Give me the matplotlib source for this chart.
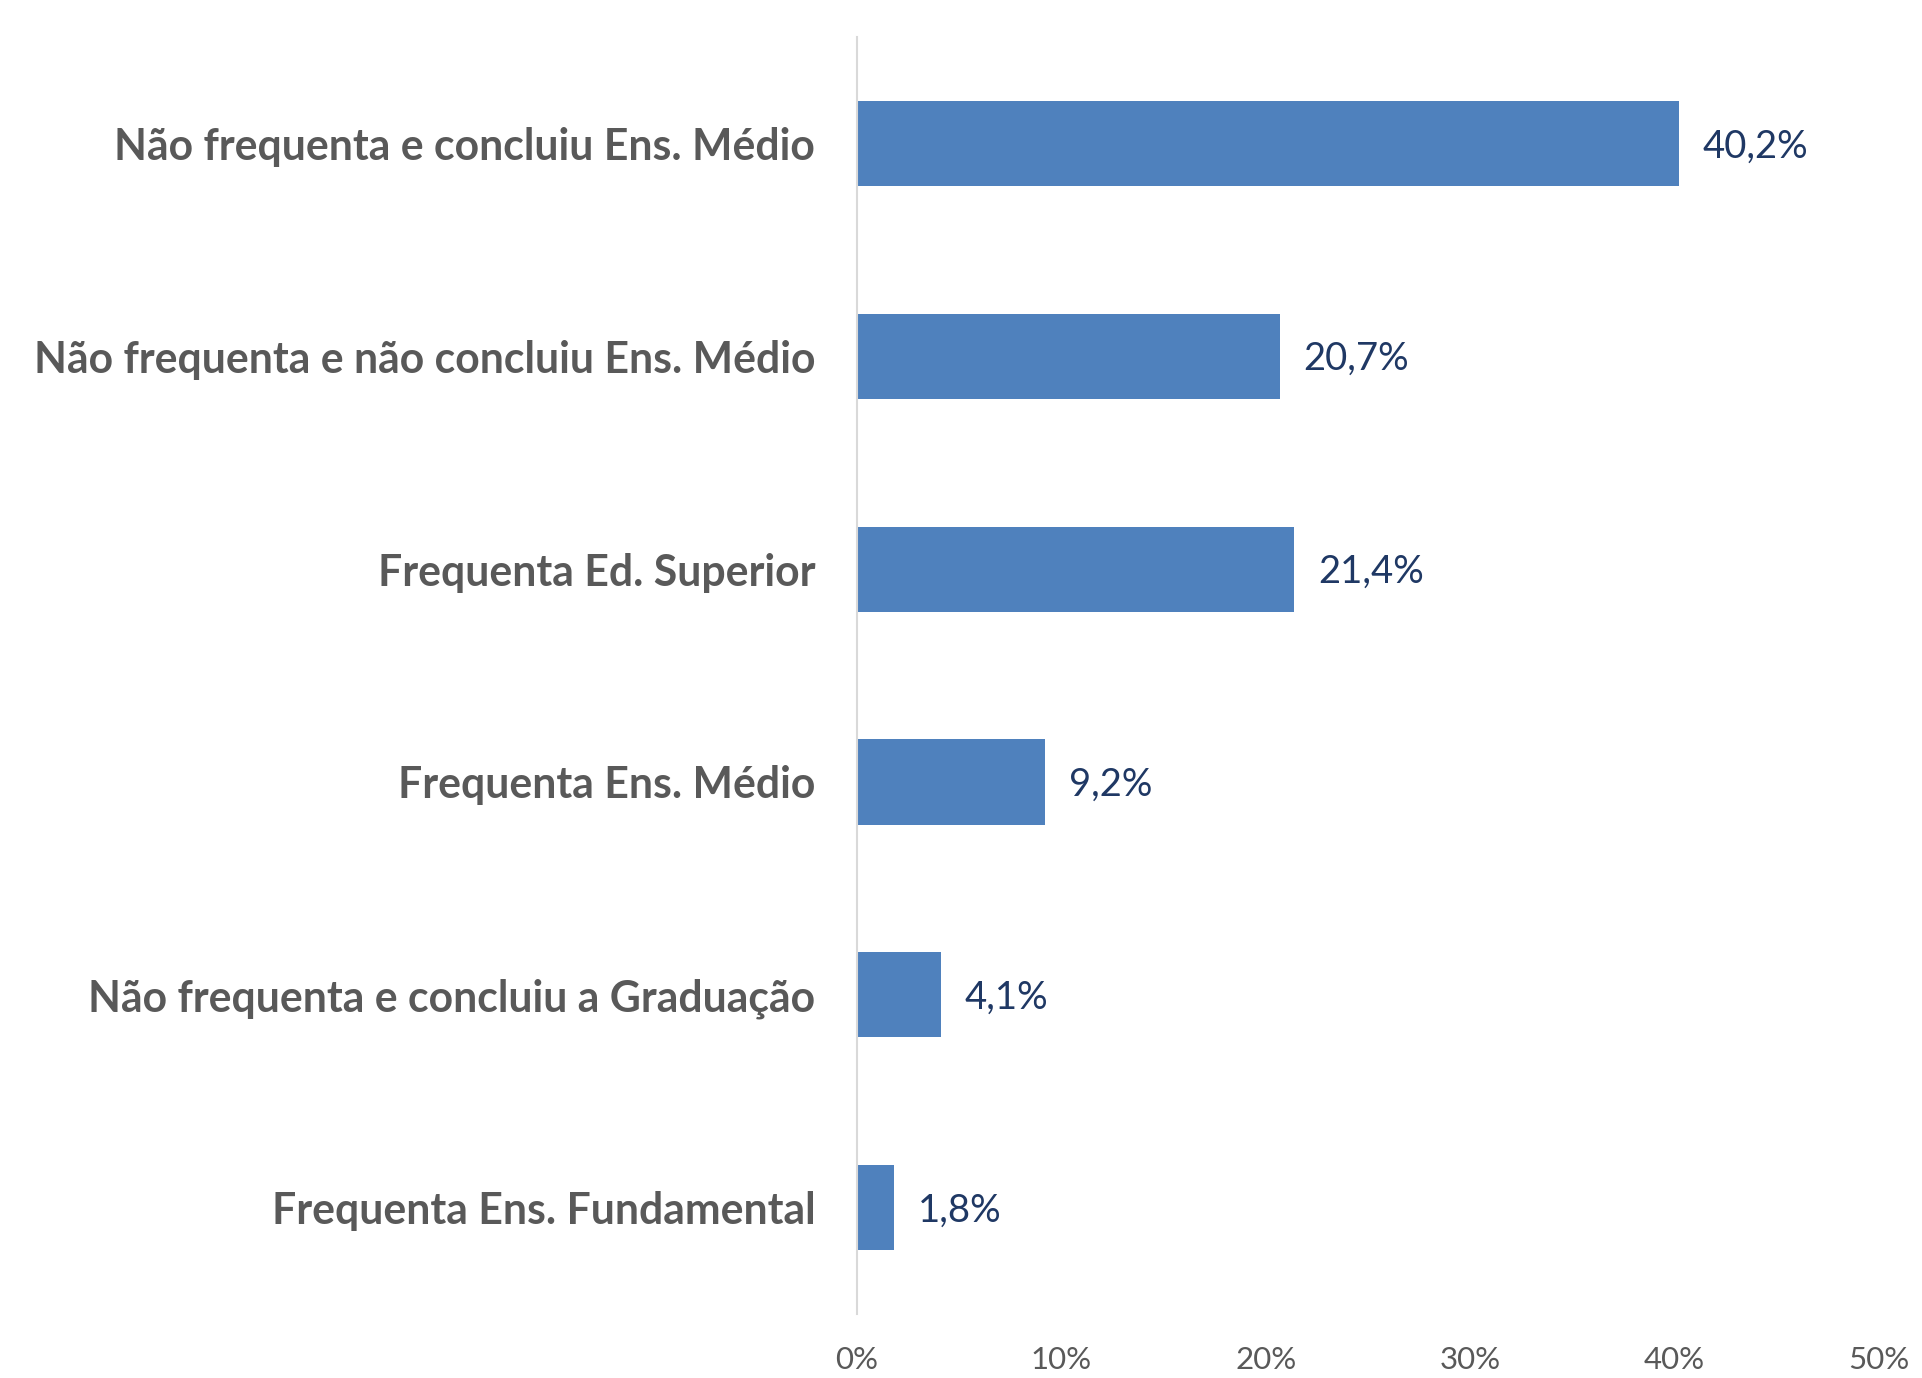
import matplotlib.pyplot as plt
from matplotlib.ticker import FuncFormatter

categorias = ['Não frequenta e concluiu Ens. Médio',
              'Não frequenta e não concluiu Ens. Médio',
              'Frequenta Ed. Superior',
              'Frequenta Ens. Médio',
              'Não frequenta e concluiu a Graduação',
              'Frequenta Ens. Fundamental']
valores = [40.2, 20.7, 21.4, 9.2, 4.1, 1.8]
rotulos = ['40,2%', '20,7%', '21,4%', '9,2%', '4,1%', '1,8%']
xticks = [0, 10, 20, 30, 40, 50]

azul = '#4F81BD'
cinza = '#595959'

fig = plt.figure(figsize=(19.22, 13.78), dpi=100)
ax = fig.add_axes([0.4459, 0.0464, 0.5317, 0.9267])

pos = list(range(len(categorias)))
ax.barh(pos, valores, height=0.40, color=azul)

for p, v, r in zip(pos, valores, rotulos):
    ax.annotate(r, (v, p), xytext=(17, -2), textcoords='offset points',
                va='center', ha='left', fontsize=27.5, color='#1F3864', family='Lato')

ax.set_ylim(len(categorias) - 0.5, -0.5)
ax.set_xlim(0, 50)
ax.set_yticks(pos)
ax.set_yticklabels(categorias, fontsize=30.8, fontweight='bold', color=cinza, family='Lato')
ax.set_xticks(xticks)
ax.xaxis.set_major_formatter(FuncFormatter(lambda x, _: '%d%%' % x))
ax.tick_params(axis='x', length=0, pad=23, labelsize=22.5, labelcolor=cinza)
ax.tick_params(axis='y', length=0, pad=30)
for lab in ax.get_xticklabels():
    lab.set_family('Lato')

for s in ['top', 'right', 'bottom']:
    ax.spines[s].set_visible(False)
ax.spines['left'].set_color('#D9D9D9')
ax.spines['left'].set_linewidth(1.5)

plt.savefig('out.png', dpi=100)
